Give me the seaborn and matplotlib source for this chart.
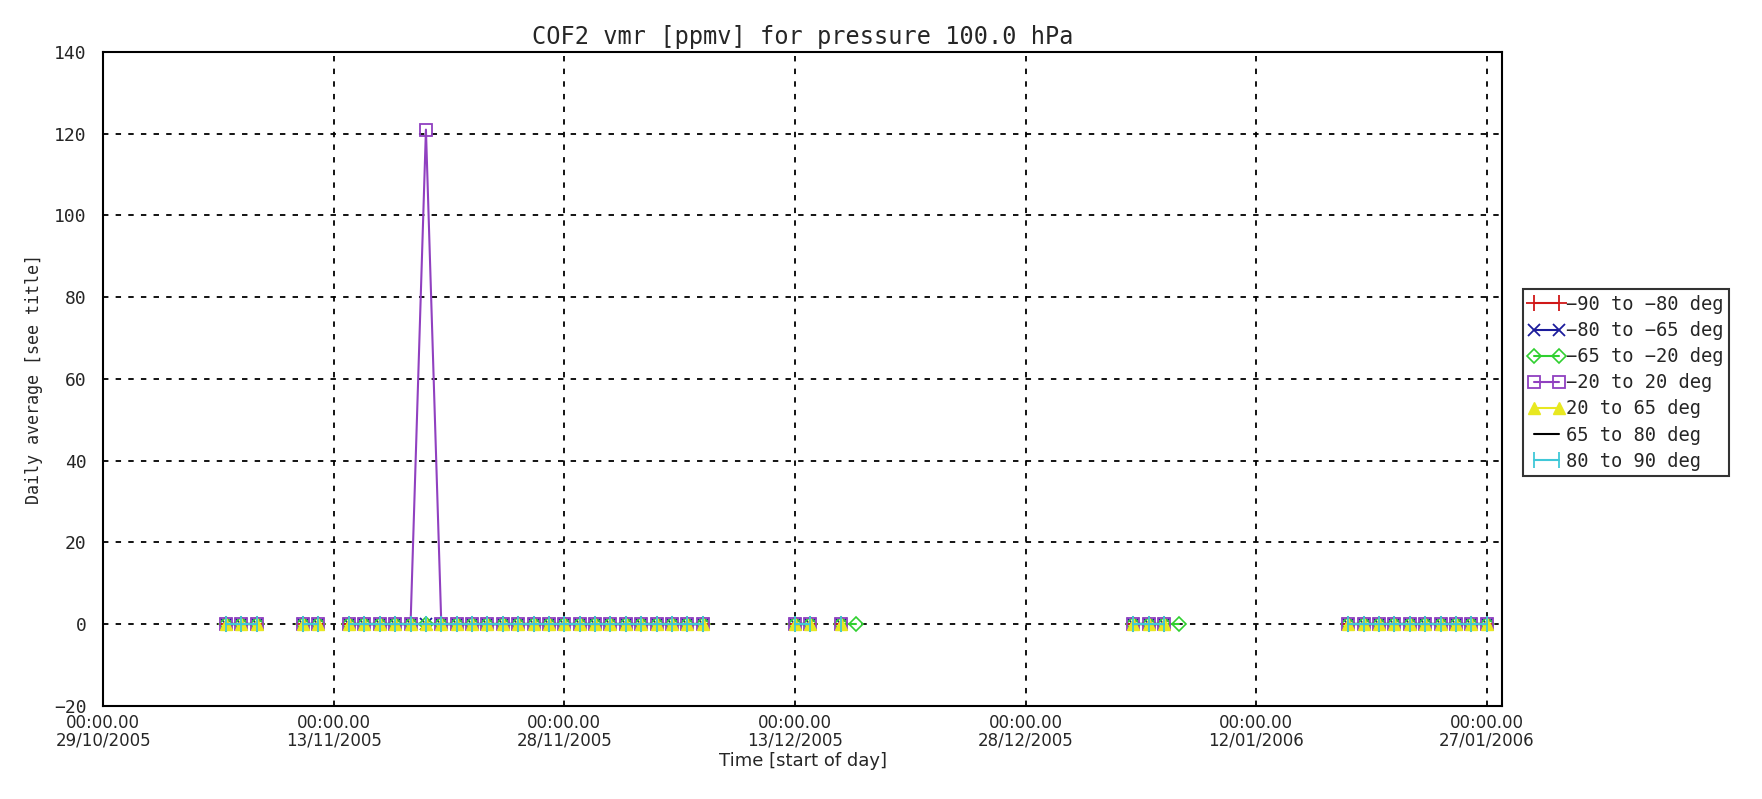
import pandas as pd
import numpy as np
import matplotlib
matplotlib.use('Agg')
import matplotlib.pyplot as plt
from matplotlib.lines import Line2D
import seaborn as sns

# days with data (shared by all latitude bands)
obs_days = ['2005-11-06', '2005-11-07', '2005-11-08',
            '2005-11-11', '2005-11-12',
            '2005-11-14', '2005-11-15', '2005-11-16', '2005-11-17', '2005-11-18',
            '2005-11-19', '2005-11-20', '2005-11-21', '2005-11-22', '2005-11-23',
            '2005-11-24', '2005-11-25', '2005-11-26', '2005-11-27', '2005-11-28',
            '2005-11-29', '2005-11-30', '2005-12-01', '2005-12-02', '2005-12-03',
            '2005-12-04', '2005-12-05', '2005-12-06', '2005-12-07',
            '2005-12-13', '2005-12-14',
            '2005-12-16',
            '2006-01-04', '2006-01-05', '2006-01-06',
            '2006-01-18', '2006-01-19', '2006-01-20', '2006-01-21', '2006-01-22',
            '2006-01-23', '2006-01-24', '2006-01-25', '2006-01-26', '2006-01-27']

# flat bands read as ~0 ppmv everywhere
flat_vals = [0, 0, 0,
             0, 0,
             0, 0, 0, 0, 0,
             0, 0, 0, 0, 0,
             0, 0, 0, 0, 0,
             0, 0, 0, 0, 0,
             0, 0, 0, 0,
             0, 0,
             0,
             0, 0, 0,
             0, 0, 0, 0, 0,
             0, 0, 0, 0, 0]

# -20 to 20 deg band has one spike on 19/11/2005
tropic_vals = [0, 0, 0,
               0, 0,
               0, 0, 0, 0, 0,
               121, 0, 0, 0, 0,
               0, 0, 0, 0, 0,
               0, 0, 0, 0, 0,
               0, 0, 0, 0,
               0, 0,
               0,
               0, 0, 0,
               0, 0, 0, 0, 0,
               0, 0, 0, 0, 0]

# -65 to -20 deg band has two extra days
midsouth_extra_days = ['2005-12-17', '2006-01-07']
midsouth_extra_vals = [0, 0]

bands = ['−90 to −80 deg', '−80 to −65 deg', '−65 to −20 deg', '−20 to 20 deg',
         '20 to 65 deg', '65 to 80 deg', '80 to 90 deg']
colors = ['#d01818', '#1c1c9c', '#30d030', '#9040c0', '#e8e820', '#000000', '#40c8d8']
markers = ['+', 'x', 'D', 's', '^', None, '|']

rows = []
for band in bands:
    days = list(obs_days)
    vals = list(tropic_vals if band == '−20 to 20 deg' else flat_vals)
    if band == '−65 to −20 deg':
        days += midsouth_extra_days
        vals += midsouth_extra_vals
    for d, v in zip(days, vals):
        rows.append({'band': band, 'date': pd.Timestamp(d), 'value': v})
df = pd.DataFrame(rows).sort_values(['band', 'date'])
# break lines where days are missing
df['seg'] = df.groupby('band')['date'].transform(lambda s: (s.diff() != pd.Timedelta(days=1)).cumsum())

sns.set_style('white')
plt.rcParams['font.family'] = ['DejaVu Sans']
mono = 'DejaVu Sans Mono'
fig = plt.figure(figsize=(17.62, 7.99), dpi=100)
ax = fig.add_axes([0.0585, 0.1164, 0.794, 0.8186])

mstyle = {'+': dict(markersize=11, mew=1.3),
          'x': dict(markersize=9, mew=1.3),
          'D': dict(markersize=7, mew=1.2, mfc='none'),
          's': dict(markersize=9, mew=1.3, mfc='none'),
          '^': dict(markersize=9, mew=1.0),
          '|': dict(markersize=11, mew=1.3),
          None: dict()}

handles = []
for band, c, m in zip(bands, colors, markers):
    sub = df[df['band'] == band]
    for _, seg in sub.groupby('seg'):
        sns.lineplot(data=seg, x='date', y='value', ax=ax, color=c, marker=m,
                     linewidth=1.5, estimator=None, legend=False,
                     markeredgecolor=c, **mstyle[m])
    handles.append(Line2D([], [], color=c, marker=m, linewidth=1.5,
                          markeredgecolor=c, **mstyle[m]))

ax.set_xlim(pd.Timestamp('2005-10-29'), pd.Timestamp('2006-01-28'))
ax.set_ylim(-20, 140)
ax.set_yticks(np.arange(-20, 141, 20))
ax.set_yticklabels([str(v).replace('-', '−') for v in np.arange(-20, 141, 20)], family=mono, fontsize=13)
xt = pd.date_range('2005-10-29', periods=7, freq='15D')
ax.set_xticks(xt)
ax.set_xticklabels([d.strftime('00:00.00\n%d/%m/%Y') for d in xt], linespacing=0.95, fontsize=12)
ax.grid(True, color='black', linestyle=(0, (3, 4)), linewidth=1.3)
ax.tick_params(axis='both', direction='in', length=0)
ax.tick_params(axis='x', pad=6)
ax.tick_params(axis='y', pad=12)
for sp in ax.spines.values():
    sp.set_color('black')
    sp.set_linewidth(1.5)

ax.set_title('COF2 vmr [ppmv] for pressure 100.0 hPa', fontsize=17, family=mono, pad=6)
ax.set_xlabel('Time [start of day]', fontsize=13, labelpad=2)
ax.set_ylabel('Daily average [see title]', fontsize=12, family=mono, labelpad=8)

leg = ax.legend(handles, bands, loc='upper left', bbox_to_anchor=(1.015, 0.637),
                prop={'family': mono, 'size': 13.5}, numpoints=2,
                frameon=True, fancybox=False, edgecolor='black',
                handlelength=1.9, handletextpad=0.1, labelspacing=0.38,
                borderpad=0.3, borderaxespad=0)
leg.get_frame().set_linewidth(1.5)

fig.savefig('out.png', dpi=100)
